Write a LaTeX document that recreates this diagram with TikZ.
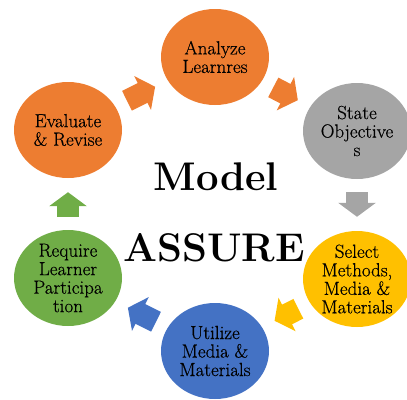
\documentclass[tikz,border=0pt]{standalone}
\usepackage{fontspec}
\newfontfamily\stagefont{Latin Modern Roman}[FakeBold=0.5]
\usetikzlibrary{shapes.geometric,arrows.meta}
\definecolor{corange}{HTML}{ED7D31}
\definecolor{cgray}{HTML}{A5A5A5}
\definecolor{cyellow}{HTML}{FFC000}
\definecolor{cblue}{HTML}{4472C4}
\definecolor{cgreen}{HTML}{70AD47}
\tikzset{
  stage/.style={ellipse,fill=#1,minimum width=108pt,minimum height=96pt,inner sep=0pt},
  stagetext/.style={align=center,font=\stagefont\fontsize{19}{18.5}\selectfont},
  flow/.style={draw=#1,line width=22pt,-{Triangle[width=37pt,length=14pt]},shorten <=13pt,shorten >=14pt},
  title/.style={anchor=base,font=\fontsize{40}{42}\selectfont\bfseries}
}
\begin{document}
\begin{tikzpicture}[x=1pt,y=-1pt]
	\useasboundingbox (0,0) rectangle (407,399);
	\node[stage=corange,label={[stagetext]center:Analyze\\Learnres}] (n1) at (215,57) {};
	\node[stage=cgray,label={[stagetext]center:State\\Objective\\s}] (n2) at (357,131) {};
	\node[stage=cyellow,label={[stagetext]center:Select\\Methods,\\Media \&\\Materials}] (n3) at (357,279) {};
	\node[stage=cblue,label={[stagetext]center:Utilize\\Media \&\\Materials}] (n4) at (215,351) {};
	\node[stage=cgreen,label={[stagetext]center:Require\\Learner\\Participa\\tion}] (n5) at (68,278) {};
	\node[stage=corange,label={[stagetext]center:Evaluate\\\& Revise}] (n6) at (68,130) {};
	\node[title] (t1) at (216,190) {Model};
	\node[title] (t2) at (214,261) {ASSURE};
	\draw[flow=corange] (n6) -- (n1);
	\draw[flow=corange] (n1) -- (n2);
	\draw[flow=cgray] (n2) -- (n3);
	\draw[flow=cyellow] (n3) -- (n4);
	\draw[flow=cblue] (n4) -- (n5);
	\draw[flow=cgreen] (n5) -- (n6);
\end{tikzpicture}
\end{document}
